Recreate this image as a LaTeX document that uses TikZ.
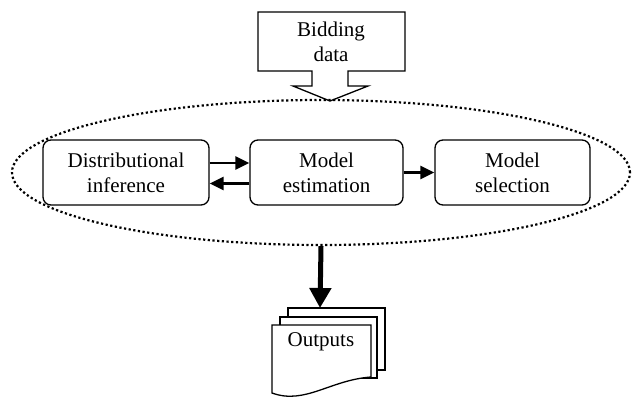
\documentclass[tikz,border=0pt]{standalone}
\usepackage{fontspec}
\setmainfont{Liberation Serif}
\usetikzlibrary{shapes.geometric,arrows.meta}
\begin{document}
\begin{tikzpicture}[x=1pt,y=-1pt,
  txt/.style={font=\fontsize{21}{25}\selectfont, align=center, inner sep=0pt},
  procbox/.style={draw, line width=1.3pt, rounded corners=8pt, minimum height=65pt, txt},
  arr/.style={line width=2.6pt, -{Triangle[length=14pt,width=13pt]}},
  bigarr/.style={line width=5pt, -{Triangle[length=20pt,width=21pt]}},
  dotline/.style={line width=2.2pt, dash pattern=on 2.2pt off 2.5pt},
  sheet/.style={draw, line width=1.3pt, fill=white}]
\useasboundingbox (0,0) rectangle (632,400);
% Bidding data callout
\draw[line width=1.3pt] (258,12) -- (405,12) -- (405,71) -- (348,71) -- (348,86) -- (368,86)
  -- (330,101) -- (293,86) -- (312,86) -- (312,71) -- (258,71) -- cycle;
\node[txt] (bid) at (331,42) {Bidding\\data};
% Dotted ellipse
\node[ellipse, dotline, draw, minimum width=618pt, minimum height=145pt, inner sep=0pt] (ell) at (321,172.5) {};
% Process boxes
\node[procbox, minimum width=166pt] (di) at (126,172.5) {Distributional\\inference};
\node[procbox, minimum width=153pt] (me) at (326.5,172.5) {Model\\estimation};
\node[procbox, minimum width=155pt] (ms) at (512.5,172.5) {Model\\selection};
\draw[arr] ([yshift=9.5pt]di.east) -- ([yshift=9.5pt]me.west);
\draw[arr] ([yshift=-11pt]me.west) -- ([yshift=-11pt]di.east);
\draw[arr] (me.east) -- (ms.west);
% Outputs multi-document
\draw[sheet] (288,308) rectangle (385,370);
\draw[sheet] (280,317) rectangle (377,378);
\draw[sheet] (272,325) -- (371,325) -- (371,377) .. controls (330,380) and (305,405) .. (272,393) -- cycle;
\node[txt] (out) at (321,342) {Outputs};
\coordinate (otop) at (320,308);
\draw[bigarr] (ell.south) -- (otop);
\end{tikzpicture}
\end{document}
